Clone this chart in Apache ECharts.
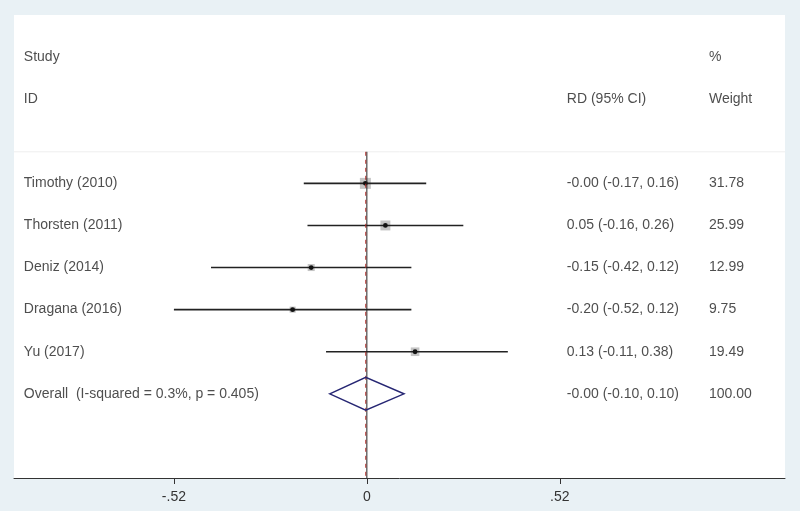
<!DOCTYPE html>
<html>
<head>
<meta charset="utf-8">
<script src="https://cdn.jsdelivr.net/npm/echarts@6/dist/echarts.min.js"></script>
<style>
html,body{margin:0;padding:0;background:#e9f1f5;}
#c{width:800px;height:511px;}
</style>
</head>
<body>
<div id="c"></div>
<script>
// ---- data ----
var studies = ['Timothy (2010)', 'Thorsten (2011)', 'Deniz (2014)', 'Dragana (2016)', 'Yu (2017)'];
var rd = [-0.004, 0.05, -0.15, -0.20, 0.13];
var lower = [-0.17, -0.16, -0.42, -0.52, -0.11];
var upper = [0.16, 0.26, 0.12, 0.12, 0.38];
var weights = [31.78, 25.99, 12.99, 9.75, 19.49];
var overallLabel = 'Overall  (I-squared = 0.3%, p = 0.405)';
var overallRd = -0.003;
var overallLower = -0.10;
var overallUpper = 0.10;
var overallWeight = 100.00;
var tickValues = [-0.52, 0, 0.52];
var tickLabels = ['-.52', '0', '.52'];
var headerStudy = ['Study', 'ID'];
var headerRd = 'RD (95% CI)';
var headerWeight = ['%', 'Weight'];

// ---- layout (data coordinates) ----
var X_MIN = -0.951, X_MAX = 1.127;
var COL_STUDY = -0.9245, COL_RD = 0.539, COL_W = 0.922;
var overallRow = studies.length;

function fmt(v){ return v.toFixed(2); }

var textData = [];
textData.push({value:[COL_STUDY, -3], label:{formatter: headerStudy[0]}});
textData.push({value:[COL_STUDY, -2], label:{formatter: headerStudy[1]}});
textData.push({value:[COL_RD, -2], label:{formatter: headerRd}});
textData.push({value:[COL_W, -3], label:{formatter: headerWeight[0]}});
textData.push({value:[COL_W, -2], label:{formatter: headerWeight[1]}});
studies.forEach(function(s, i){
  textData.push({value:[COL_STUDY, i], label:{formatter: s}});
  textData.push({value:[COL_RD, i], label:{formatter: fmt(rd[i]) + ' (' + fmt(lower[i]) + ', ' + fmt(upper[i]) + ')'}});
  textData.push({value:[COL_W, i], label:{formatter: fmt(weights[i])}});
});
textData.push({value:[COL_STUDY, overallRow], label:{formatter: overallLabel}});
textData.push({value:[COL_RD, overallRow], label:{formatter: fmt(overallRd) + ' (' + fmt(overallLower) + ', ' + fmt(overallUpper) + ')'}});
textData.push({value:[COL_W, overallRow], label:{formatter: fmt(overallWeight)}});

var studyData = studies.map(function(s, i){ return [i, rd[i], lower[i], upper[i], weights[i]]; });

var chart = echarts.init(document.getElementById('c'));
chart.setOption({
  backgroundColor: '#e9f1f5',
  animation: false,
  grid: {left: 14, right: 15, top: 15, bottom: 33, show: true, backgroundColor: '#ffffff', borderWidth: 0},
  xAxis: {
    type: 'value', min: X_MIN, max: X_MAX,
    splitLine: {show: false},
    axisLine: {show: true, onZero: false, lineStyle: {color: '#333', width: 1}},
    axisTick: {show: true, inside: false, length: 6, customValues: tickValues, lineStyle: {color: '#333'}},
    axisLabel: {show: true, customValues: tickValues, margin: 12, color: '#333', fontSize: 14,
      fontFamily: 'Liberation Sans, Arial, sans-serif',
      formatter: function(v){ var i = tickValues.indexOf(v); return i >= 0 ? tickLabels[i] : ''; }}
  },
  yAxis: {type: 'value', inverse: true, min: -4, max: 7, show: false, splitLine: {show: false}},
  series: [
    {
      type: 'line', data: [[X_MIN, -0.75], [X_MAX, -0.75]], symbol: 'none', silent: true,
      lineStyle: {color: '#eeeeee', width: 1}
    },
    {
      type: 'line', data: [[0, -0.75], [0, 7]], symbol: 'none', silent: true,
      lineStyle: {color: '#222', width: 1}
    },
    {
      type: 'line', data: [[overallRd, -0.75], [overallRd, 7]], symbol: 'none', silent: true,
      lineStyle: {color: '#b0302c', width: 1, type: [4, 4]}
    },
    {
      type: 'custom', silent: true,
      data: studyData,
      renderItem: function(params, api){
        var row = api.value(0);
        var c = api.coord([api.value(1), row]);
        var l = api.coord([api.value(2), row]);
        var h = api.coord([api.value(3), row]);
        var side = 1.95 * Math.sqrt(api.value(4));
        return {type: 'group', children: [
          {type: 'rect', shape: {x: c[0] - side/2, y: c[1] - side/2, width: side, height: side},
            style: {fill: '#c4c4c4'}},
          {type: 'line', shape: {x1: l[0], y1: l[1], x2: h[0], y2: h[1]},
            style: {stroke: '#222', lineWidth: 1.6}},
          {type: 'circle', shape: {cx: c[0], cy: c[1], r: 2.4}, style: {fill: '#111'}}
        ]};
      },
      z: 3
    },
    {
      type: 'custom', silent: true,
      data: [[overallRow, overallRd, overallLower, overallUpper]],
      renderItem: function(params, api){
        var row = api.value(0);
        var pts = [
          api.coord([api.value(2), row]),
          api.coord([api.value(1), row - 0.39]),
          api.coord([api.value(3), row]),
          api.coord([api.value(1), row + 0.39])
        ];
        return {type: 'polygon', shape: {points: pts},
          style: {fill: 'none', stroke: '#262673', lineWidth: 1.5}};
      },
      z: 4
    },
    {
      type: 'scatter', silent: true, symbolSize: 0, data: textData,
      label: {show: true, position: [0, 0], align: 'left', verticalAlign: 'middle',
        color: '#222', fontSize: 14, fontFamily: 'Liberation Sans, Arial, sans-serif'},
      z: 5
    }
  ]
});
</script>
</body>
</html>
